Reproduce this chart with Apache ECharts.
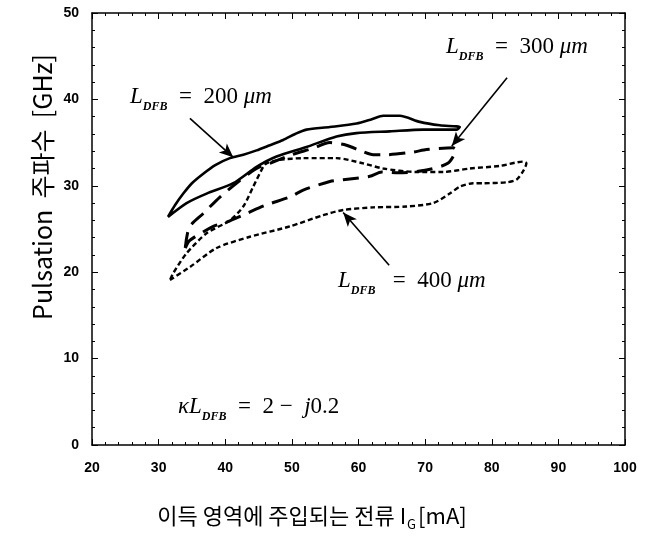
<!DOCTYPE html>
<html><head><meta charset="utf-8">
<script src="https://cdn.jsdelivr.net/npm/echarts@6/dist/echarts.min.js"></script>
<style>html,body{margin:0;padding:0;background:#fff}#c{width:659px;height:536px}</style>
</head><body><div id="c"></div>
<script>
// axis ranges & ticks
const xTicks = [20, 30, 40, 50, 60, 70, 80, 90, 100];
const yTicks = [0, 10, 20, 30, 40, 50];

// L_DFB = 200 um (solid loop)
const s200X = [31.4, 32.5, 33.7, 35.0, 36.7, 38.5, 40.7, 42.7, 44.7, 46.7, 48.7, 50.5, 52.2, 55.7, 59.7, 62.0, 63.7, 66.2, 69.2, 72.2, 75.2, 74.7, 69.7, 64.7, 59.7, 56.7, 52.2, 47.7, 44.7, 41.2, 37.2, 34.2, 31.4];
const s200Y = [26.4, 27.8, 29.1, 30.3, 31.4, 32.4, 33.2, 33.6, 34.1, 34.7, 35.3, 36.0, 36.5, 36.8, 37.2, 37.7, 38.1, 38.1, 37.4, 37.0, 36.8, 36.5, 36.5, 36.3, 36.1, 35.7, 34.5, 33.4, 32.2, 30.3, 29.1, 28.0, 26.4];

// L_DFB = 300 um (long dashed loop)
const s300X = [34.0, 34.6, 36.7, 39.2, 42.0, 44.7, 46.7, 50.0, 53.0, 55.7, 58.2, 60.5, 62.2, 64.2, 68.2, 70.2, 74.2, 74.6, 73.4, 70.0, 66.0, 63.5, 61.7, 57.7, 55.7, 51.7, 49.7, 46.2, 43.2, 40.2, 38.2, 34.7, 34.0];
const s300Y = [22.8, 25.2, 26.8, 28.7, 30.5, 32.0, 32.6, 33.6, 34.3, 35.0, 34.7, 34.0, 33.6, 33.6, 33.9, 34.2, 34.4, 34.2, 32.6, 31.8, 31.5, 31.6, 31.1, 30.7, 30.5, 29.5, 28.7, 27.8, 26.8, 25.8, 25.3, 23.7, 22.8];

// L_DFB = 400 um (short dashed loop)
const s400X = [31.7, 34.7, 38.7, 43.7, 49.7, 54.7, 57.7, 62.2, 67.2, 71.2, 73.7, 75.2, 77.2, 78.8, 82.2, 83.7, 84.8, 85.2, 84.7, 81.2, 76.7, 72.7, 68.7, 63.7, 60.7, 56.7, 51.7, 48.2, 46.2, 45.7, 44.2, 42.7, 40.7, 37.2, 34.2, 32.2, 31.7];
const s400Y = [19.1, 20.6, 22.8, 24.1, 25.3, 26.6, 27.2, 27.5, 27.6, 28.0, 29.1, 29.9, 30.3, 30.3, 30.4, 30.7, 31.8, 32.6, 32.8, 32.3, 32.0, 31.6, 31.6, 32.0, 32.6, 33.2, 33.2, 33.0, 32.6, 32.2, 29.9, 27.6, 26.0, 24.5, 22.2, 19.9, 19.1];

const zip = (xs, ys) => xs.map((x, i) => [x, ys[i]]);

const chart = echarts.init(document.getElementById('c'), null, {renderer: 'canvas'});

const tickFont = {fontFamily: 'Liberation Sans Narrow, Liberation Sans, Arial, sans-serif', fontWeight: 'bold', fontSize: 14, color: '#000'};
const axisCommon = {
  axisLine: {show: true, onZero: false, lineStyle: {color: '#000', width: 1.5}},
  axisTick: {show: true, inside: true, length: 6, lineStyle: {color: '#000', width: 1}},
  minorTick: {show: true, splitNumber: 5, length: 3, lineStyle: {color: '#000', width: 1}},
  splitLine: {show: false}
};

const serif = 'Liberation Serif, Times New Roman, serif';
const rich = {
  i: {fontFamily: serif, fontStyle: 'italic', fontSize: 23, color: '#000', padding: [0, 0, 5, 0], verticalAlign: 'bottom'},
  n: {fontFamily: serif, fontSize: 23, color: '#000', padding: [0, 0, 5, 0], verticalAlign: 'bottom'},
  s: {fontFamily: serif, fontStyle: 'italic', fontWeight: 'bold', fontSize: 12, color: '#000', verticalAlign: 'bottom'}
};

const arrowPairs = [
  [[34.7, 37.8], [41.2, 33.3]],
  [[82.3, 42.5], [74.0, 34.6]],
  [[64.6, 20.8], [57.7, 26.9]]
];

chart.setOption({
  backgroundColor: '#fff',
  animation: false,
  grid: {left: 92, right: 34, top: 13, bottom: 91},
  xAxis: [
    Object.assign({type: 'value', min: xTicks[0], max: xTicks[xTicks.length - 1], interval: 10, position: 'bottom',
      axisLabel: Object.assign({margin: 16}, tickFont)}, axisCommon),
    Object.assign({type: 'value', min: xTicks[0], max: xTicks[xTicks.length - 1], interval: 10, position: 'top',
      axisLabel: {show: false}}, axisCommon)
  ],
  yAxis: [
    Object.assign({type: 'value', min: yTicks[0], max: yTicks[yTicks.length - 1], interval: 10, position: 'left',
      axisLabel: Object.assign({margin: 13}, tickFont)}, axisCommon),
    Object.assign({type: 'value', min: yTicks[0], max: yTicks[yTicks.length - 1], interval: 10, position: 'right',
      axisLabel: {show: false}}, axisCommon)
  ],
  series: [
    {type: 'line', name: '200', data: zip(s200X, s200Y), showSymbol: false, smooth: 0.25,
      lineStyle: {color: '#000', width: 2.6, type: 'solid'}},
    {type: 'line', name: '300', data: zip(s300X, s300Y), showSymbol: false, smooth: 0.25,
      lineStyle: {color: '#000', width: 3, type: [16, 9]}},
    {type: 'line', name: '400', data: zip(s400X, s400Y), showSymbol: false, smooth: 0.25,
      lineStyle: {color: '#000', width: 2.4, type: [5, 3]}},
    {type: 'line', name: 'arrows', data: [], silent: true,
      markLine: {silent: true, symbol: ['none', 'arrow'], symbolSize: [9, 14], label: {show: false},
        lineStyle: {color: '#000', width: 1.6, type: 'solid'},
        data: arrowPairs.map(p => [{coord: p[0]}, {coord: p[1]}])}}
  ],
  graphic: [
    {type: 'text', left: 130, top: 85, style: {text: '{i|L}{s|DFB}{n|  =  200 }{i|μm}', rich: rich}},
    {type: 'text', left: 446, top: 35, style: {text: '{i|L}{s|DFB}{n|  =  300 }{i|μm}', rich: rich}},
    {type: 'text', left: 338, top: 269, style: {text: '{i|L}{s|DFB}{n|   =  400 }{i|μm}', rich: rich}},
    {type: 'text', left: 178, top: 395, style: {text: '{i|κL}{s|DFB}{n|  =  2 −  }{i|j}{n|0.2}', rich: rich}},
    {type: 'text', x: 42, y: 187, rotation: Math.PI / 2,
      style: {text: 'Pulsation  주파수  [GHz]', fontFamily: 'Noto Sans CJK KR, sans-serif', fontSize: 25, fill: '#000',
        textAlign: 'center', textVerticalAlign: 'middle'}},
    {type: 'text', x: 312, y: 518,
      style: {text: '{t|이득 영역에 주입되는 전류 I}{g|G}{t|[mA]}',
        textAlign: 'center', textVerticalAlign: 'middle',
        rich: {
          t: {fontFamily: 'Noto Sans CJK KR, sans-serif', fontSize: 22, color: '#000', padding: [0, 0, 4, 0], verticalAlign: 'bottom'},
          g: {fontFamily: 'Noto Sans CJK KR, sans-serif', fontSize: 13, color: '#000', verticalAlign: 'bottom', padding: [0, 2, 0, 1]}
        }}}
  ]
});
</script>
</body></html>
